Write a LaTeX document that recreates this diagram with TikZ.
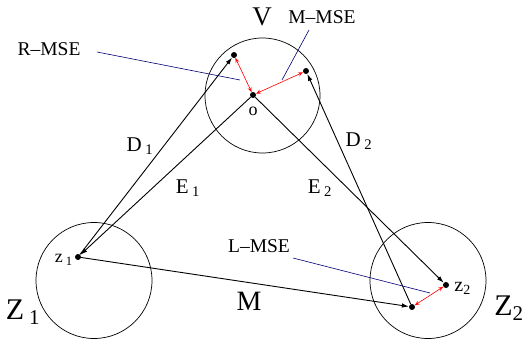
\documentclass[tikz,border=0pt]{standalone}
\usepackage{fontspec}
\setmainfont{Liberation Serif}
\usetikzlibrary{arrows.meta,positioning}
\newcommand{\fs}[1]{\fontsize{#1}{#1}\selectfont}
\tikzset{
  punto/.style   = {circle, fill=black, inner sep=0pt, minimum size=6pt},
  region/.style  = {draw, circle, inner sep=0pt, line width=0.7pt},
  flecha/.style  = {-{Latex[length=7pt,width=4.5pt]}, line width=0.9pt},
  flechar/.style = {{Stealth[length=5pt,width=4pt,open]}-{Stealth[length=5pt,width=4pt,open]},
                    red, line width=0.6pt},
  guia/.style    = {blue!45!black, line width=0.6pt},
  etq/.style     = {inner sep=0pt, font=\fs{19.5}},
  big/.style     = {inner sep=0pt, font=\fs{30}},
  lbl/.style     = {inner sep=0pt, font=\fs{21}},
}

\begin{document}
\begin{tikzpicture}[x=1pt,y=-1pt]
  \useasboundingbox (0,0) rectangle (523,339);

  % regiones
  \node[region, minimum size=115pt] (cV) at (262.5,95.5) {};
  \node[region, minimum size=116pt] (cZ1) at (94,280.5) {};
  \node[region, minimum size=116pt] (cZ2) at (428,280.5) {};
  \node[big, font=\fs{27}] (tV) at (262,17) {V};
  \node[big] (tZ1) at (23,312) {Z\,\textsubscript{1}};
  \node[big] (tZ2) at (509,308) {Z\textsubscript{2}};

  % puntos
  \node[punto] (o)  at (253,95)  {};
  \node[punto] (v1) at (234,55)  {};
  \node[punto] (v2) at (306,71)  {};
  \node[punto] (z1) at (78,257)  {};
  \node[punto] (z2) at (446,285) {};
  \node[punto] (m2) at (412,307) {};
  \node[inner sep=0pt, font=\fs{18}, below=9pt of o] (to) {o};
  \node[inner sep=0pt, font=\fs{18}, left=2pt of z1, yshift=-3pt] (tz1) {z\,\textsubscript{1}};
  \node[inner sep=0pt, font=\fs{20}, right=5pt of z2, yshift=-3pt] (tz2) {z\textsubscript{2}};

  % flechas
  \draw[flecha] (z1) -- (v1);
  \draw[flecha] (o) -- (z1);
  \draw[flecha] (o) -- (z2);
  \draw[flecha] (m2) -- (v2);
  \draw[flecha] (z1) -- (m2);
  \draw[flechar] (o) -- (v1);
  \draw[flechar] (o) -- (v2);
  \draw[flechar] (m2) -- (z2);

  \node[lbl] (tD1) at (140,146) {D\,\textsubscript{1}};
  \node[lbl] (tE1) at (188,188) {E\,\textsubscript{1}};
  \node[lbl] (tD2) at (359,141) {D\,\textsubscript{2}};
  \node[lbl] (tE2) at (320,188) {E\,\textsubscript{2}};
  \node[big, font=\fs{28}] (tM) at (249,301) {M};

  % errores
  \node[etq] (rmse) at (49,49)  {R--MSE};
  \node[etq] (mmse) at (322,17) {M--MSE};
  \node[etq] (lmse) at (259,246) {L--MSE};
  \coordinate (r0) at (97,52);   \coordinate (r1) at (240,80);
  \coordinate (m0) at (309,30);  \coordinate (m1) at (282,80);
  \coordinate (l0) at (293,258); \coordinate (l1) at (430,293);
  \draw[guia] (r0) -- (r1);
  \draw[guia] (m0) -- (m1);
  \draw[guia] (l0) -- (l1);
\end{tikzpicture}
\end{document}
